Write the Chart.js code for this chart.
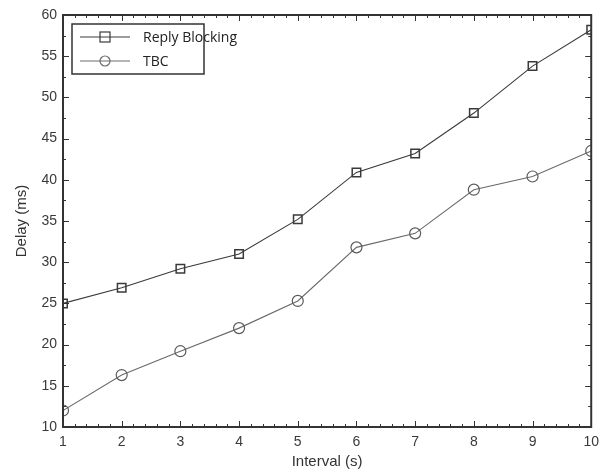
<!DOCTYPE html>
<html>
<head>
<meta charset="utf-8">
<script src="https://cdn.jsdelivr.net/npm/chart.js@4"></script>
<style>
  html, body { margin: 0; padding: 0; background: #fff; }
  #wrap { width: 606px; height: 473px; }
</style>
</head>
<body>
<div id="wrap"><canvas id="delayChart" width="606" height="473"></canvas></div>
<script>
const intervals = [1, 2, 3, 4, 5, 6, 7, 8, 9, 10];
const replyBlocking = [25.0, 26.9, 29.2, 31.0, 35.2, 40.9, 43.2, 48.1, 53.8, 58.2];
const tbc = [12.0, 16.3, 19.2, 22.0, 25.3, 31.8, 33.5, 38.8, 40.4, 43.5];
const yTicks = [10, 15, 20, 25, 30, 35, 40, 45, 50, 55, 60];

const axisColor = '#333';
const tickFont = { family: 'Liberation Sans', size: 14 };
const titleFont = { family: 'Liberation Sans', size: 15 };

// inward ticks on all four sides + box frame, MATLAB style
const frameTicksPlugin = {
  id: 'frameTicks',
  afterDatasetsDraw(chart) {
    const { ctx, chartArea: { top, bottom, left, right }, scales: { x, y } } = chart;
    ctx.save();
    ctx.strokeStyle = axisColor;
    ctx.lineWidth = 1;
    ctx.beginPath();
    for (let v = 1; v <= 10.001; v += 0.2) {
      const px = Math.round(x.getPixelForValue(v)) + 0.5;
      const major = Math.abs(v - Math.round(v)) < 0.01;
      const len = major ? 6 : 3;
      ctx.moveTo(px, bottom); ctx.lineTo(px, bottom - len);
      ctx.moveTo(px, top); ctx.lineTo(px, top + len);
    }
    for (let v = 10; v <= 60.001; v += 2.5) {
      const py = Math.round(y.getPixelForValue(v)) + 0.5;
      const major = v % 5 === 0;
      const len = major ? 6 : 3;
      ctx.moveTo(left, py); ctx.lineTo(left + len, py);
      ctx.moveTo(right, py); ctx.lineTo(right - len, py);
    }
    ctx.stroke();
    ctx.lineWidth = 2;
    ctx.strokeRect(left, top, right - left, bottom - top);
    ctx.restore();
  }
};

// legend box in the upper left corner
const boxLegendPlugin = {
  id: 'boxLegend',
  afterDraw(chart) {
    const { ctx, chartArea: { top, left } } = chart;
    const bx = left + 9, by = top + 9, bw = 132, bh = 50;
    ctx.save();
    ctx.fillStyle = '#fff';
    ctx.fillRect(bx, by, bw, bh);
    ctx.strokeStyle = axisColor;
    ctx.lineWidth = 1.5;
    ctx.strokeRect(bx, by, bw, bh);
    chart.data.datasets.forEach((ds, i) => {
      const ly = by + 13 + i * 24;
      ctx.strokeStyle = ds.borderColor;
      ctx.lineWidth = 1;
      ctx.beginPath();
      ctx.moveTo(bx + 8, ly); ctx.lineTo(bx + 58, ly);
      ctx.stroke();
      ctx.lineWidth = 1.2;
      if (ds.pointStyle === 'rect') {
        ctx.strokeRect(bx + 28, ly - 5, 10, 10);
      } else {
        ctx.beginPath();
        ctx.arc(bx + 33, ly, 5, 0, Math.PI * 2);
        ctx.stroke();
      }
      ctx.fillStyle = '#222';
      ctx.font = '14px "Open Sans"';
      ctx.textBaseline = 'middle';
      ctx.fillText(ds.label, bx + 71, ly + 1);
    });
    ctx.restore();
  }
};

new Chart(document.getElementById('delayChart'), {
  type: 'line',
  data: {
    datasets: [
      {
        label: 'Reply Blocking',
        data: intervals.map((v, i) => ({ x: v, y: replyBlocking[i] })),
        borderColor: '#3a3a3a',
        borderWidth: 1.1,
        pointStyle: 'rect',
        pointRadius: 6,
        pointBorderWidth: 1.5,
        pointBackgroundColor: 'rgba(0,0,0,0)',
        pointBorderColor: '#3a3a3a'
      },
      {
        label: 'TBC',
        data: intervals.map((v, i) => ({ x: v, y: tbc[i] })),
        borderColor: '#6a6a6a',
        borderWidth: 1.1,
        pointStyle: 'circle',
        pointRadius: 5.5,
        pointBorderWidth: 1.2,
        pointBackgroundColor: 'rgba(0,0,0,0)',
        pointBorderColor: '#5a5a5a'
      }
    ]
  },
  options: {
    responsive: false,
    animation: false,
    layout: { padding: { top: 15, right: 9, left: 0, bottom: 0 } },
    scales: {
      x: {
        type: 'linear',
        min: 1,
        max: 10,
        afterFit: s => { s.height = 46; },
        ticks: { stepSize: 1, color: '#3a3a3a', font: tickFont, padding: 7 },
        grid: { display: false, drawTicks: false },
        border: { display: false },
        title: { display: true, text: 'Interval (s)', color: '#333', font: titleFont, padding: { top: 0, bottom: 2 } }
      },
      y: {
        min: 10,
        max: 60,
        afterFit: s => { s.width = 63; },
        afterBuildTicks: s => { s.ticks = yTicks.map(v => ({ value: v })); },
        ticks: { color: '#3a3a3a', font: tickFont, padding: 6 },
        grid: { display: false, drawTicks: false },
        border: { display: false },
        title: { display: true, text: 'Delay (ms)', color: '#333', font: titleFont, padding: { top: 13, bottom: 4 } }
      }
    },
    plugins: {
      legend: { display: false },
      tooltip: { enabled: false }
    }
  },
  plugins: [frameTicksPlugin, boxLegendPlugin]
});
</script>
</body>
</html>
